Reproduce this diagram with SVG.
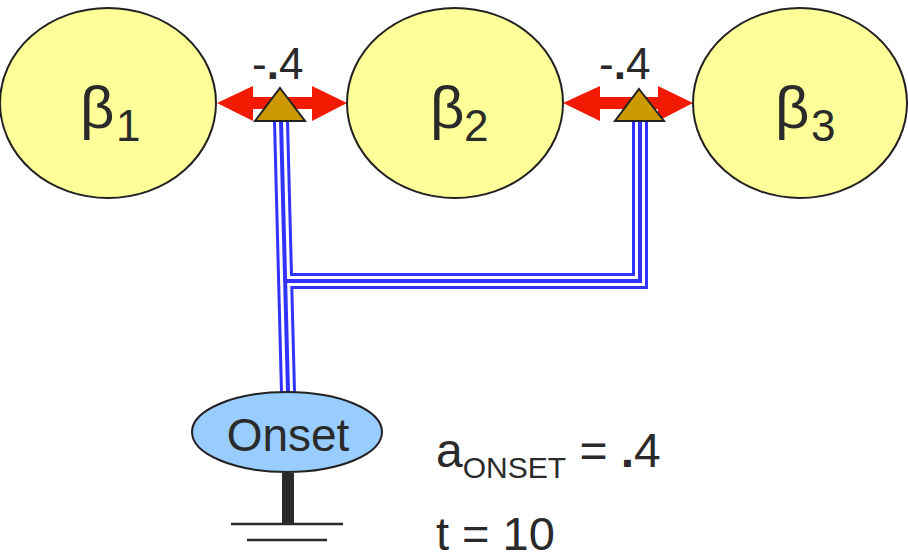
<svg xmlns="http://www.w3.org/2000/svg" width="908" height="556" viewBox="0 0 908 556">
<style>
.beta{fill:#FFFF99;stroke:#222;stroke-width:2}
.t{font-family:"Liberation Sans",Arial,sans-serif;fill:#2a2a2a}
.arrow{fill:#F21A00}
.tri{fill:#CC9900;stroke:#222;stroke-width:2;stroke-linejoin:miter}
.l1{fill:none;stroke:#3333FF;stroke-width:16}
.l2{fill:none;stroke:#fff;stroke-width:10}
.l3{fill:none;stroke:#3333FF;stroke-width:4}
</style>
<rect width="908" height="556" fill="#fff"/>
<g id="connectors">
  <g id="wire">
    <path class="l1" d="M281 121 L288 392"/>
    <path class="l1" d="M640 121 L640 281 L287 281"/>
    <path class="l2" d="M281 121 L288 392"/>
    <path class="l2" d="M640 121 L640 281 L287 281"/>
    <path class="l3" d="M281 121 L288 392"/>
    <path class="l3" d="M640 121 L640 281 L287 281"/>
  </g>
  <path id="arrow1" class="arrow" d="M217 103 L253 86 L253 97 L312 97 L312 86 L347 103 L312 121 L312 109 L253 109 L253 121 Z"/>
  <path id="arrow2" class="arrow" d="M563 103 L600 86 L600 97 L658 97 L658 86 L693 103 L658 121 L658 109 L600 109 L600 121 Z"/>
  <polygon id="tri1" class="tri" points="280,88 305,121 255,121"/>
  <polygon id="tri2" class="tri" points="639,89 664,121 615,121"/>
  <text class="t" x="252" y="79" font-size="44">-<tspan font-weight="bold">.</tspan>4</text>
  <text class="t" x="599" y="79" font-size="44">-<tspan font-weight="bold">.</tspan>4</text>
</g>
<g id="beta1">
  <ellipse class="beta" cx="108" cy="103" rx="108" ry="95"/>
  <text class="t" x="80" y="128" font-size="60">β</text>
  <text class="t" x="116" y="141" font-size="44">1</text>
</g>
<g id="beta2">
  <ellipse class="beta" cx="455" cy="103" rx="108" ry="95"/>
  <text class="t" x="430" y="128" font-size="60">β</text>
  <text class="t" x="464" y="141" font-size="44">2</text>
</g>
<g id="beta3">
  <ellipse class="beta" cx="800" cy="103" rx="107" ry="95"/>
  <text class="t" x="775" y="128" font-size="60">β</text>
  <text class="t" x="811" y="141" font-size="44">3</text>
</g>
<g id="onset">
  <ellipse cx="287" cy="432" rx="95" ry="40" fill="#99CCFF" stroke="#222" stroke-width="2"/>
  <text class="t" x="288" y="451" font-size="46" text-anchor="middle">Onset</text>
</g>
<g id="ground">
  <rect x="282" y="473" width="12" height="51" fill="#2a2a2a"/>
  <line x1="231" y1="524" x2="343" y2="524" stroke="#2a2a2a" stroke-width="2.5"/>
  <line x1="247" y1="540" x2="327" y2="540" stroke="#2a2a2a" stroke-width="2.5"/>
</g>
<g id="labels">
  <text class="t" x="436" y="467" font-size="48">a<tspan font-size="30" dy="11">ONSET</tspan><tspan dy="-11"> = </tspan><tspan font-weight="bold">.</tspan>4</text>
  <text class="t" x="436" y="550" font-size="47">t = 10</text>
</g>
</svg>
